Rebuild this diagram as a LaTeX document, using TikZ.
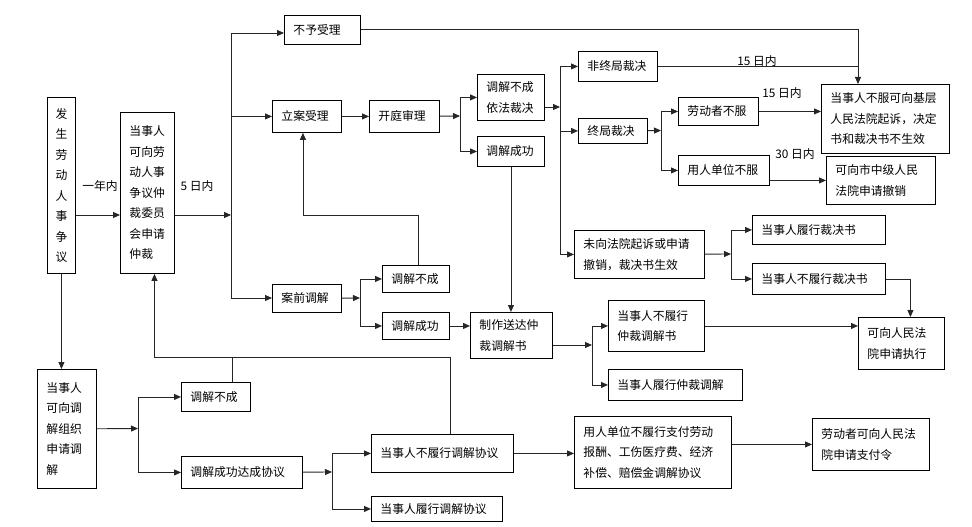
\documentclass[tikz,border=0pt]{standalone}
\usepackage{fontspec}
\setmainfont{Noto Sans CJK SC}
\usetikzlibrary{arrows.meta,calc}

\begin{document}
\begin{tikzpicture}[
    x=1pt, y=-1pt,
    box/.style={draw, line width=0.9pt, anchor=north west, inner xsep=9pt, inner ysep=0pt,
        align=left, font=\fontsize{11.8pt}{20.5pt}\selectfont},
    note/.style={inner sep=0pt, font=\fontsize{11.8pt}{14pt}\selectfont},
    link/.style={draw=black!85, line width=0.9pt},
    arr/.style={link, -{Triangle[length=7pt,width=6pt]}},
]
    \useasboundingbox (0,0) rectangle (972,527);

    % Start
    \node[box, text width=12pt, inner xsep=8pt, align=center, minimum height=176pt] (fs) at (47,97) {发\\生\\劳\\动\\人\\事\\争\\议};
    \node[box, text width=36pt, minimum height=161pt] (zc) at (120,112) {当事人\\可向劳\\动人事\\争议仲\\裁委员\\会申请\\仲裁};
    \node[box, text width=41pt, minimum height=119pt] (tjzz) at (37,369) {当事人\\可向调\\解组织\\申请调\\解};

    % Arbitration
    \node[box, text width=58pt, minimum height=29pt] (byl) at (284,15) {不予受理};
    \node[box, text width=51pt, minimum height=32pt] (la) at (272,100) {立案受理};
    \node[box, text width=52pt, minimum height=32pt] (kt) at (369,100) {开庭审理};
    \node[box, text width=49pt, minimum height=46pt] (bcjc) at (477,74) {调解不成\\依法裁决};
    \node[box, text width=49pt, minimum height=30pt] (cg1) at (477,136) {调解成功};
    \node[box, text width=51pt, minimum height=28pt] (aq) at (272,284) {案前调解};
    \node[box, text width=49pt, minimum height=27pt] (bc2) at (382,265) {调解不成};
    \node[box, text width=49pt, minimum height=27pt] (cg2) at (382,312) {调解成功};
    \node[box, text width=64pt, minimum height=46pt] (zz) at (470,312) {制作送达仲\\裁调解书};

    % Awards
    \node[box, text width=61pt, minimum height=30pt] (fzj) at (578,51) {非终局裁决};
    \node[box, text width=51pt, minimum height=25pt] (zj) at (578,118) {终局裁决};
    \node[box, text width=112pt, minimum height=48pt] (wxf) at (574,230) {未向法院起诉或申请\\撤销，裁决书生效};
    \node[box, text width=62pt, minimum height=28pt] (ldz) at (678,97) {劳动者不服};
    \node[box, text width=73pt, minimum height=30pt] (yrd) at (678,155) {用人单位不服};
    \node[box, text width=110pt, minimum height=69pt] (jc) at (821,84) {当事人不服可向基层\\人民法院起诉，决定\\书和裁决书不生效};
    \node[box, text width=91pt, minimum height=48pt] (zjy) at (826,156) {可向市中级人民\\法院申请撤销};
    \node[box, text width=115pt, minimum height=29pt] (lxcj) at (752,215) {当事人履行裁决书};
    \node[box, text width=115pt, minimum height=31pt] (blcj) at (752,263) {当事人不履行裁决书};
    \node[box, text width=68pt, minimum height=52pt] (zx) at (858,317) {可向人民法\\院申请执行};
    \node[box, text width=78pt, minimum height=51pt] (bltj) at (608,300) {当事人不履行\\仲裁调解书};
    \node[box, text width=116pt, minimum height=31pt] (lxtj) at (608,369) {当事人履行仲裁调解};

    % Mediation
    \node[box, text width=51pt, minimum height=29pt] (bc3) at (181,382) {调解不成};
    \node[box, text width=103pt, minimum height=32pt] (dc) at (181,456) {调解成功达成协议};
    \node[box, text width=124pt, minimum height=38pt] (blxy) at (371,434) {当事人不履行调解协议};
    \node[box, text width=113pt, minimum height=25pt] (lxxy) at (371,496) {当事人履行调解协议};
    \node[box, text width=139pt, minimum height=72pt] (zf) at (574,416) {用人单位不履行支付劳动\\报酬、工伤医疗费、经济\\补偿、赔偿金调解协议};
    \node[box, text width=99pt, minimum height=52pt] (zfl) at (812,418) {劳动者可向人民法\\院申请支付令};

    % Labels
    \node[note] (t1y) at (100,186) {一年内};
    \node[note] (t5d) at (197,186) {5 日内};
    \node[note] (t15a) at (757,61) {15 日内};
    \node[note] (t15b) at (782,93) {15 日内};
    \node[note] (t30) at (795,154) {30 日内};

    % Junctions
    \coordinate (t0) at (231,33);
    \coordinate (t1) at (231,215);
    \coordinate (t2) at (231,298);
    \coordinate (s2) at (460,116);
    \coordinate (s3) at (560,107);
    \coordinate (s4) at (661,130.5);
    \coordinate (s5) at (731,254);
    \coordinate (s6) at (360,298);
    \coordinate (s7) at (592,345);
    \coordinate (s8) at (138,428.5);
    \coordinate (s9) at (332,472);
    \coordinate (m1) at (0,357);
    \coordinate (jtop) at ([xshift=37pt]jc.north west);

    % Connections
    \draw[arr] (fs.east |- t1) -- (zc.west |- t1);
    \draw[arr] (zc.east |- t1) -- (t1);
    \draw[link] (t0) -- (t2);
    \draw[arr] (t0) -- (t0 -| byl.west);
    \draw[arr] (t0 |- la) -- (la);
    \draw[arr] (t2) -- (t2 -| aq.west);
    \draw[arr] (la) -- (kt);
    \draw[arr] (kt) -- (s2);
    \draw[arr] (s2) |- (bcjc);
    \draw[arr] (s2) |- (cg1);
    \draw[arr] (bcjc.east |- s3) -- (s3);
    \draw[arr] (s3) |- (fzj);
    \draw[arr] (s3) |- (zj);
    \draw[arr] (s3) |- (wxf);
    \draw[arr] (byl) -| (jtop);
    \draw[link] (fzj) -- (fzj -| jtop);
    \draw[arr] (zj) -- (s4);
    \draw[arr] (s4) |- (ldz);
    \draw[arr] (s4) |- (yrd);
    \draw[arr] (ldz) -- (ldz -| jc.west);
    \draw[arr] (yrd.east |- zjy) -- (zjy);
    \draw[arr] (wxf) -- (s5);
    \draw[arr] (s5) |- (lxcj);
    \draw[arr] (s5) |- (blcj);
    \draw[arr] (blcj) -| ([xshift=9pt]zx.north);
    \draw[arr] (cg1) -- (cg1 |- zz.north);
    \draw[arr] ([xshift=2pt]bc2.north) |- ([xshift=-4pt]la.south |- t1) -- ([xshift=-4pt]la.south);
    \draw[arr] (aq) -- (s6);
    \draw[arr] (s6) |- (bc2);
    \draw[arr] (s6) |- (cg2);
    \draw[arr] (cg2) -- (cg2 -| zz.west);
    \draw[arr] (zz.east |- s7) -- (s7);
    \draw[arr] (s7) |- (bltj);
    \draw[arr] (s7) |- (lxtj);
    \draw[arr] (bltj) -- (bltj -| zx.west);

    \draw[arr] (fs) -- (fs |- tjzz.north);
    \draw[arr] (tjzz) -- (s8);
    \draw[arr] (s8) |- (bc3);
    \draw[arr] (s8) |- (dc);
    \draw[arr] ([xshift=8pt]blxy.north) |- ([xshift=7pt]zc.south |- m1) -- ([xshift=7pt]zc.south);
    \draw[link] ([xshift=16pt]bc3.north) -- ([xshift=16pt]bc3.north |- m1);
    \draw[arr] (dc) -- (s9);
    \draw[arr] (s9) |- (blxy);
    \draw[arr] (s9) |- (lxxy);
    \draw[arr] (blxy) -- (blxy -| zf.west);
    \draw[arr] (zf.east |- zfl) -- (zfl);
\end{tikzpicture}
\end{document}
